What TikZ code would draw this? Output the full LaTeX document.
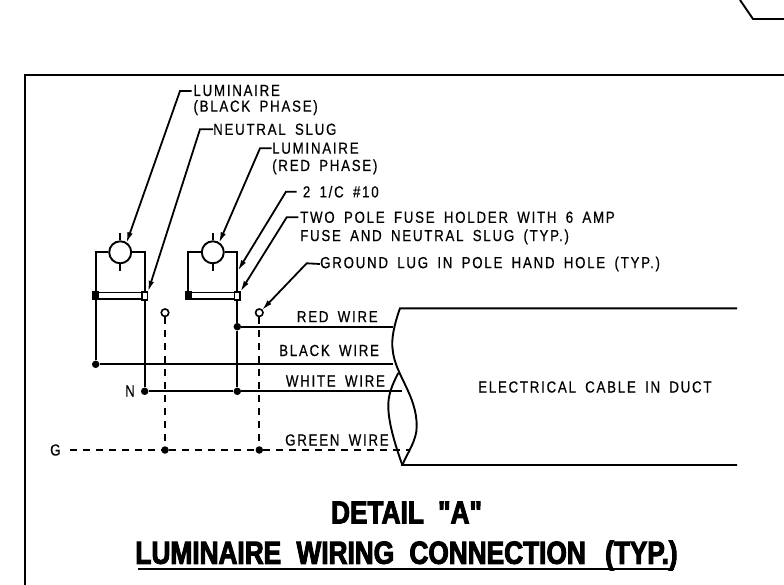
\documentclass[tikz,border=0pt]{standalone}
\usepackage{fontspec}
\usetikzlibrary{arrows.meta}
\newfontfamily\cadfont[FakeStretch=0.83,FakeBold=0.5,LetterSpace=11,WordSpace=1.7]{Liberation Sans}
\newfontfamily\cadbold[FakeStretch=0.82,FakeBold=3]{Liberation Sans Bold}
\tikzset{
  wire/.style={line width=1.9pt},
  gndwire/.style={line width=1.8pt,dash pattern=on 7pt off 6pt},
  leader/.style={line width=1.8pt,-{Latex[length=11pt,width=5.5pt]},shorten >=-1pt},
  lbl/.style={inner sep=0pt,anchor=west,align=left,font=\cadfont\fontsize{16}{16}\selectfont},
  titlelbl/.style={inner sep=0pt,font=\cadbold\fontsize{32}{32}\selectfont},
  joint/.style={circle,fill=black,inner sep=0pt,minimum size=7.5pt},
  ring/.style={circle,draw=black,line width=1.6pt,fill=white,inner sep=0pt,minimum size=7.5pt},
  lamp/.style={circle,draw=black,line width=1.9pt,fill=white,inner sep=0pt,minimum size=22pt},
  fuseblack/.style={rectangle,fill=black,inner sep=0pt,minimum width=6.5pt,minimum height=9pt},
  fusewhite/.style={rectangle,draw=black,line width=1.6pt,fill=white,inner sep=0pt,minimum width=5.5pt,minimum height=8pt}
}
\begin{document}
\begin{tikzpicture}[x=1pt,y=-1pt]
  \useasboundingbox (0,0) rectangle (784,585);
  % frame and corner of next sheet
  \draw [line width=1.9pt] (784,75) -- (25,75) -- (25,585);
  \draw [line width=1.9pt] (740,0) -- (753,19) -- (784,19);
  % the two luminaires
  \foreach \n/\x in {a/95.7,b/188.3} {
    \node (lamp\n) at ({\x+24.5},252.3) [lamp] {};
    \draw [wire] (lamp\n.north) -- ++(0,-7);
    \draw [wire] (lamp\n.south) -- ++(0,7);
    \coordinate (tl\n) at (\x,252.3);
    \coordinate (tr\n) at ({\x+49},252.3);
    \draw [wire] (lamp\n.west) -- (tl\n) -- (\x,292);
    \draw [wire] (lamp\n.east) -- (tr\n) -- ({\x+49},292);
    \draw [wire] (\x,292.5) rectangle ({\x+49},299);
    \node (fb\n) at (\x,295.7) [fuseblack] {};
    \node (fw\n) at ({\x+49},295.7) [fusewhite] {};
  }
  % junctions
  \node (jblack) at (95.7,364.3) [joint] {};
  \node (jneut) at (144.7,391.3) [joint] {};
  \node (jred) at (237.3,326.7) [joint] {};
  \node (jwhite) at (237.3,391.3) [joint] {};
  \node (gnda) at (165,312.7) [ring] {};
  \node (gndb) at (259.3,312.7) [ring] {};
  \node (jgnda) at (165,450) [joint] {};
  \node (jgndb) at (259.3,450) [joint] {};
  \coordinate (endred) at (393,326.7);
  \coordinate (endblack) at (393,364.3);
  \coordinate (endwhite) at (401.7,391.3);
  \coordinate (gstart) at (70,450);
  \coordinate (gend) at (410,450);
  % wires
  \draw [wire] (fba) -- (jblack) -- (endblack);
  \draw [wire] (fwa) -- (jneut) -- (jwhite) -- (endwhite);
  \draw [wire] (fwb) -- (jred) -- (jwhite);
  \draw [wire] (jred) -- (endred);
  \draw [gndwire] (gstart) -- (jgnda) -- (jgndb) -- (gend);
  \draw [gndwire] (gnda) -- (jgnda);
  \draw [gndwire] (gndb) -- (jgndb);
  % cable in duct
  \draw [wire] (737,308.3) -- (400,308.3)
    .. controls (394,325) and (391,340) .. (392.7,350)
    .. controls (395,375) and (417,395) .. (416.7,426.7)
    .. controls (416.7,440) and (408,452) .. (402.3,465) -- (737,465);
  \draw [wire] (398.3,373)
    .. controls (392,385) and (388,395) .. (388.3,406.7)
    .. controls (388.5,425) and (397,450) .. (402.3,465);
  % labels with leaders
  \node (lblblack) at (193.3,100) [lbl] {LUMINAIRE\\[-0.3pt](BLACK PHASE)};
  \node (lblslug) at (213,129.3) [lbl] {NEUTRAL SLUG};
  \node (lblred) at (272,158.5) [lbl] {LUMINAIRE\\[1.3pt](RED PHASE)};
  \node (lblcond) at (302.7,191.7) [lbl] {2 1/C \#10};
  \node (lblfuse) at (300,228) [lbl] {TWO POLE FUSE HOLDER WITH 6 AMP\\[2.3pt]FUSE AND NEUTRAL SLUG (TYP.)};
  \node (lbllug) at (320,264) [lbl] {GROUND LUG IN POLE HAND HOLE (TYP.)};
  \draw [leader] (191.7,91) -- (180,91) -- (126.7,242.3);
  \draw [leader] (lblslug.west) -- (200,129.3) -- (fwa.north east);
  \draw [leader] (271.7,148.3) -- (260,148.3) -- (219.3,242.3);
  \draw [leader] (296.7,191.7) -- (286,191.7) -- (238.3,270);
  \draw [leader] (298.3,217.3) -- (286.7,217.3) -- (fwb.north east);
  \draw [leader] (lbllug.west) -- (306.7,263.3) -- (gndb.north east);
  % wire names
  \node (lblrw) at (296.7,316.7) [lbl] {RED WIRE};
  \node (lblbw) at (279,350.5) [lbl] {BLACK WIRE};
  \node (lblww) at (285.7,381) [lbl] {WHITE WIRE};
  \node (lblgw) at (285,440) [lbl] {GREEN WIRE};
  \node (lbln) at (125,391) [lbl] {N};
  \node (lblg) at (50,450) [lbl] {G};
  \node (lblduct) at (478,387) [lbl] {ELECTRICAL CABLE IN DUCT};
  % title
  \node (ttla) at (406.5,512.5) [titlelbl] {DETAIL\hspace{7pt} "A"};
  \node (ttlb) at (406.5,555.5) [titlelbl] {LUMINAIRE\hspace{8pt} WIRING\hspace{8pt} CONNECTION\hspace{12pt} (TYP.)};
  \coordinate (ulstart) at (138,569);
  \coordinate (ulend) at (674,569);
  \draw [line width=2.2pt] (ulstart) -- (ulend);
\end{tikzpicture}
\end{document}
